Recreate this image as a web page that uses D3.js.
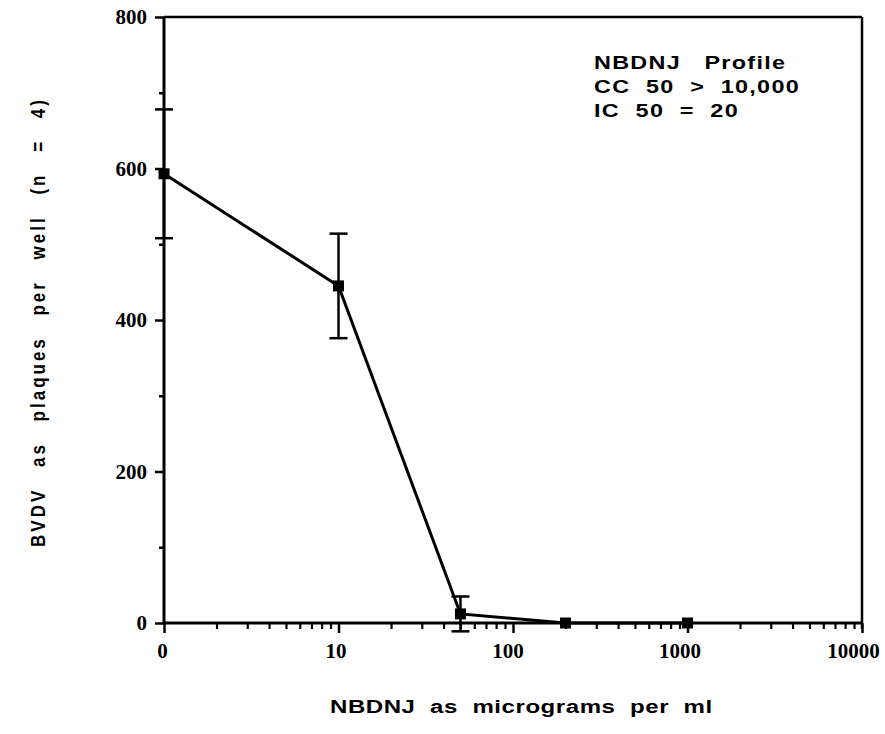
<!DOCTYPE html>
<html><head><meta charset="utf-8">
<script src="https://cdn.jsdelivr.net/npm/d3@7"></script>
<style>
html,body{margin:0;padding:0;background:#fff;}
svg{display:block;}
</style>
</head><body>
<svg id="chart" width="885" height="734"></svg>
<script>
// ---- data ----
const concentrations = [1, 10, 50, 200, 1000];   // first point plotted at the "0" position
const plaqueMeans    = [593, 445, 12, 0, 0];
const plaqueErrors   = [85, 69, 23, 0, 0];
const xTickValues = [1, 10, 100, 1000, 10000];
const xTickLabels = ["0", "10", "100", "1000", "10000"];
const yTickValues = [0, 200, 400, 600, 800];
const yMinorTicks = [100, 300, 500, 700];
const annotationLines = ["NBDNJ   Profile", "CC  50  >  10,000", "IC  50  =  20"];
const xTitle = "NBDNJ  as  micrograms  per  ml";
const yTitle = "BVDV as plaques per well (n = 4)";

const svg = d3.select("#chart");
const x = d3.scaleLog().domain([1, 10000]).range([164, 862]);
const y = d3.scaleLinear().domain([0, 800]).range([623, 17]);

const SANS = "Liberation Sans, Arial, Helvetica, sans-serif";
const SERIF = "Liberation Serif, Times New Roman, serif";

// minor x ticks
const xMinor = [];
for (let d = 1; d < 10000; d *= 10) for (let k = 2; k <= 9; k++) xMinor.push(d * k);

// frame
svg.append("line").attr("x1", x(1)).attr("x2", x(1)).attr("y1", y(800)).attr("y2", y(0))
  .attr("stroke", "#000").attr("stroke-width", 3);
svg.append("line").attr("x1", x(1)).attr("x2", x(10000)).attr("y1", y(800)).attr("y2", y(800))
  .attr("stroke", "#000").attr("stroke-width", 2.5);
svg.append("line").attr("x1", x(10000)).attr("x2", x(10000)).attr("y1", y(800)).attr("y2", y(0) + 6)
  .attr("stroke", "#000").attr("stroke-width", 2.5);

// x axis
const xLabelShift = [-2, -3, -5.5, -8, -9];
const xAxis = d3.axisBottom(x).tickValues(xTickValues)
  .tickFormat((d, i) => xTickLabels[i]).tickSize(10).tickPadding(10);
const gx = svg.append("g").attr("transform", `translate(0,${y(0)})`).call(xAxis);
gx.select(".domain").attr("stroke-width", 3).attr("d", `M${x(1)},0H${x(10000)}`);
gx.selectAll(".tick line").attr("stroke-width", 2.5);
gx.selectAll(".tick text").attr("font-family", SERIF).attr("font-weight", "bold")
  .attr("font-size", 21).attr("fill", "#000")
  .attr("dx", (d, i) => xLabelShift[i]);
const xMinorAxis = d3.axisBottom(x).tickValues(xMinor).tickFormat("").tickSize(6);
const gxm = svg.append("g").attr("transform", `translate(0,${y(0)})`).call(xMinorAxis);
gxm.select(".domain").remove();
gxm.selectAll(".tick line").attr("stroke-width", 2.2);

// y axis
const yAxis = d3.axisLeft(y).tickValues(yTickValues).tickSize(9).tickPadding(8);
const gy = svg.append("g").attr("transform", `translate(${x(1)},0)`).call(yAxis);
gy.select(".domain").remove();
gy.selectAll(".tick line").attr("stroke-width", 2.5);
gy.selectAll(".tick text").attr("font-family", SERIF).attr("font-weight", "bold")
  .attr("font-size", 21).attr("fill", "#000");
const yMinorAxis = d3.axisLeft(y).tickValues(yMinorTicks).tickFormat("").tickSize(5);
const gym = svg.append("g").attr("transform", `translate(${x(1)},0)`).call(yMinorAxis);
gym.select(".domain").remove();
gym.selectAll(".tick line").attr("stroke-width", 2.5);

// data
const pts = concentrations.map((c, i) => ({c, m: plaqueMeans[i], e: plaqueErrors[i]}));

const line = d3.line().x(d => x(d.c)).y(d => y(d.m));
svg.append("path").datum(pts).attr("d", line).attr("fill", "none")
  .attr("stroke", "#000").attr("stroke-width", 3);

const eb = svg.append("g").attr("stroke", "#000").attr("stroke-width", 2.5);
pts.filter(d => d.e > 0).forEach(d => {
  const cx = x(d.c);
  eb.append("line").attr("x1", cx).attr("x2", cx).attr("y1", y(d.m + d.e)).attr("y2", y(d.m - d.e));
  eb.append("line").attr("x1", cx - 9).attr("x2", cx + 9).attr("y1", y(d.m + d.e)).attr("y2", y(d.m + d.e));
  eb.append("line").attr("x1", cx - 9).attr("x2", cx + 9).attr("y1", y(d.m - d.e)).attr("y2", y(d.m - d.e));
});

svg.append("g").selectAll("rect").data(pts).join("rect")
  .attr("x", d => x(d.c) - 5.5).attr("y", d => y(d.m) - 5.5)
  .attr("width", 11).attr("height", 11).attr("fill", "#000");

// annotation (scan is horizontally stretched -> scale x)
const annG = svg.append("g").attr("transform", "translate(594,0) scale(1.3,1)");
const ann = annG.append("text").attr("font-family", SANS)
  .attr("font-weight", "bold").attr("font-size", 18).attr("fill", "#000")
  .attr("letter-spacing", 1).style("white-space", "pre");
annotationLines.forEach((t, i) => {
  ann.append("tspan").attr("x", 0).attr("y", 69 + i * 24).text(t);
});

// axis titles
svg.append("g").attr("transform", "translate(330,713) scale(1.3,1)")
  .append("text").attr("x", 0).attr("y", 0)
  .attr("font-family", SANS).attr("font-weight", "bold")
  .attr("font-size", 18.5).style("white-space", "pre")
  .attr("textLength", 294).attr("lengthAdjust", "spacing")
  .attr("fill", "#000").text(xTitle);
svg.append("g").attr("transform", "translate(45,322) scale(1.15,1) rotate(-90)")
  .append("text").attr("x", 0).attr("y", 0).attr("text-anchor", "middle")
  .attr("font-family", SANS).attr("font-weight", "bold")
  .attr("font-size", 17).attr("letter-spacing", 3).style("word-spacing", "13px")
  .attr("fill", "#000").text(yTitle);
</script>
</body></html>
